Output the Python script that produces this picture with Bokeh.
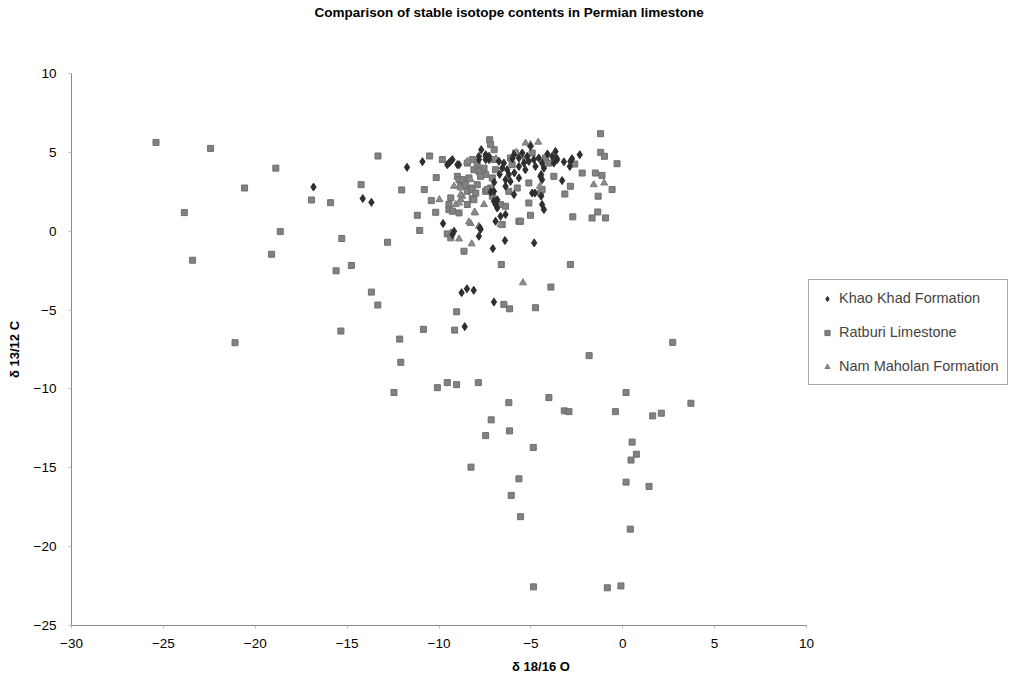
from bokeh.plotting import figure
from bokeh.models import Range1d, Legend, LegendItem, FixedTicker, Title
from bokeh.embed import file_html
from bokeh.resources import INLINE

TITLE = "Comparison of stable isotope contents in Permian limestone"
X_LABEL = "δ 18/16 O"
Y_LABEL = "δ 13/12 C"
X_TICKS = [-30, -25, -20, -15, -10, -5, 0, 5, 10]
Y_TICKS = [-25, -20, -15, -10, -5, 0, 5, 10]
X_MIN, X_MAX = -30, 10
Y_MIN, Y_MAX = -25, 10

# Khao Khad Formation (diamonds)
khao_x = [-16.83, -14.15, -13.68, -11.74, -10.9, -9.55, -9.37, -8.91, -9.46, -9.27, -9.0,
          -7.7, -7.46, -7.83, -7.46, -7.28, -7.83, -7.46, -7.28,
          -6.74, -6.47, -6.56, -6.29, -6.2, -6.38, -6.11, -6.38,
          -5.92, -5.65, -5.47, -5.2, -5.11, -4.84, -4.57, -4.39, -5.38, -5.65, -4.75,
          -5.02, -3.84, -3.66, -3.57, -4.29, -3.75,
          -4.48, -4.39, -4.93, -5.65, -5.92,
          -6.83, -6.92, -7.01, -7.19, -7.01, -6.92, -6.83,
          -6.92, -6.65, -6.38, -6.41, -7.07, -4.82,
          -7.74, -7.83, -7.77, -9.78, -9.18, -9.27,
          -4.78, -4.44, -4.39, -4.29, -3.3,
          -2.34, -2.76, -2.85, -2.88, -3.6, -4.44,
          -8.77, -8.48, -8.11, -7.01, -8.6,
          -6.0, -5.3, -4.1, -3.2, -5.9, -6.7, -7.0]
khao_y = [2.8, 2.07, 1.83, 4.05, 4.41, 4.22, 4.43, 4.22, 4.32, 4.54, 4.22,
          5.17, 4.85, 4.54, 4.54, 4.54, 4.75, 4.75, 4.75,
          4.43, 4.32, 4.0, 3.9, 3.59, 3.27, 3.16, 2.85,
          4.85, 4.64, 4.96, 4.75, 4.43, 4.54, 4.64, 4.32, 4.32, 4.11, 4.11,
          5.38, 4.75, 5.06, 4.54, 4.0, 4.32,
          3.48, 3.27, 2.42, 3.38, 2.32,
          2.0, 1.79, 2.53, 2.49, 1.9, 1.69, 1.47,
          0.63, 0.95, 1.06, -0.59, -1.1, -0.74,
          0.11, -0.32, 0.21, 0.49, 0.0, -0.21,
          2.42, 2.22, 1.69, 1.37, 3.21,
          4.85, 4.6, 4.43, 4.11, 4.64, 3.59,
          -3.9, -3.65, -3.75, -4.49, -6.05,
          4.6, 3.9, 4.9, 4.4, 3.7, 3.6, 3.1]

# Ratburi Limestone (squares)
ratburi_x = [-25.4, -22.43, -18.88, -20.58, -16.94, -15.9, -14.24, -13.32, -23.86, -18.64,
             -15.29, -12.8, -19.11, -23.41, -14.77, -15.6, -13.68, -13.33, -15.34, -21.1,
             -10.51, -10.15, -12.03, -10.8, -10.42, -11.18, -10.18, -11.05,
             -8.46, -7.24, -7.19, -7.0,
             -8.19, -7.92, -8.1, -7.83, -7.55, -7.46, -7.74, -7.01, -6.92, -7.1,
             -6.02, -6.11, -5.84, -5.29, -4.93, -4.2, -4.02,
             -3.75, -5.11, -4.48, -5.74, -6.2,
             -7.19, -7.46, -7.1, -6.65,
             -9.0, -8.91, -8.73, -8.82, -8.55, -8.28, -8.46, -8.19, -8.0, -7.92,
             -9.82, -9.36, -9.46, -8.19,
             -9.46, -9.27, -8.91, -8.37, -8.1, -8.46, -7.37,
             -6.38, -5.65, -9.55, -9.36, -8.64,
             -5.11, -5.02, -5.56, -6.56, -4.39,
             -2.21, -1.21, -1.2, -1.0, -0.31, -1.49, -1.13, -0.58, -2.85, -3.15,
             -1.34, -1.36, -1.67, -0.94, -2.72, -2.61,
             -6.61, -2.85, -3.91, -6.47, -6.16, -4.75, -9.04, -9.15, -10.85, -12.14,
             -12.08, 2.72, -1.83, -12.45, -10.09, -9.55, -9.04, -7.86, -4.02, -6.2,
             0.18, 3.71, -3.18, -2.93, -0.4, 1.63, 2.1, -7.16, -6.16, -7.46,
             -4.87, 0.51, 0.74, 0.45, -8.26, -5.65, 0.18, 1.43, -6.07, -5.56,
             0.41, -4.86, -0.84, -0.1]
ratburi_y = [5.63, 5.25, 4.0, 2.74, 1.98, 1.81, 2.95, 4.77, 1.18, -0.02,
             -0.46, -0.7, -1.46, -1.84, -2.17, -2.51, -3.86, -4.68, -6.33, -7.07,
             4.77, 3.4, 2.62, 2.64, 1.94, 1.01, 1.2, 0.05,
             4.32, 5.8, 5.49, 5.17,
             4.54, 4.22, 3.9, 3.8, 4.0, 3.59, 3.48, 4.54, 3.9, 3.38,
             4.22, 4.64, 4.96, 4.54, 4.96, 4.64, 4.32,
             3.48, 3.06, 2.42, 2.74, 2.53,
             2.74, 2.53, 2.22, 1.69,
             3.48, 3.27, 3.27, 2.85, 2.95, 2.74, 2.53, 2.64, 2.42, 2.95,
             4.54, 2.11, 1.69, 2.06,
             1.37, 1.27, 1.16, 3.38, 2.0, 1.69, 2.64,
             1.58, 0.63, -0.17, -0.42, -1.27,
             1.79, 1.01, 0.63, 0.42, 2.64,
             3.69, 6.18, 5.0, 4.75, 4.28, 3.69, 3.54, 2.64, 2.85, 2.36,
             2.22, 1.22, 0.84, 0.84, 0.91, 4.26,
             -2.11, -2.11, -3.54, -4.64, -4.92, -4.85, -5.11, -6.27, -6.22, -6.84,
             -8.31, -7.05, -7.89, -10.23, -9.92, -9.6, -9.73, -9.6, -10.55, -10.87,
             -10.23, -10.91, -11.39, -11.44, -11.44, -11.71, -11.54, -11.96, -12.66, -12.96,
             -13.71, -13.37, -14.14, -14.51, -14.96, -15.7, -15.91, -16.18, -16.75, -18.1,
             -18.89, -22.55, -22.61, -22.49]

# Nam Maholan Formation (triangles)
nam_x = [-5.29, -5.02, -4.6, -9.98, -9.09, -8.82, -9.18, -8.82, -8.46, -8.28,
         -8.73, -8.82, -7.55, -8.04, -8.28, -8.91, -8.22, -7.83, -6.65, -9.36,
         -8.37, -8.06, -8.91, -4.51, -5.43, -1.58, -1.01, -6.9, -5.8]
nam_y = [5.59, 5.49, 5.65, 2.0, 1.69, 2.0, 2.85, 2.74, 4.43, 3.27,
         2.22, 2.32, 1.69, 1.16, 0.49, -0.49, -0.8, 0.32, 0.42, -0.1,
         0.59, 1.22, 1.79, 2.85, -3.27, 2.95, 3.06, 4.6, 5.0]

FONT = "Liberation Sans"

# layout (pixels): the plotted x span occupies 735 px of a 939 px wide frame;
# the remaining frame area on the right holds the legend
W, H = 1011, 683
LEFT, TOP, BOTTOM, RIGHT = 71, 73, 58, 1
FRAME_W = W - LEFT - RIGHT
AXIS_W = 735
x_end = X_MIN + (X_MAX - X_MIN) * FRAME_W / AXIS_W

p = figure(width=W, height=H,
           x_range=Range1d(X_MIN, x_end), y_range=Range1d(Y_MIN, Y_MAX),
           output_backend="svg", toolbar_location=None,
           min_border_left=LEFT, min_border_top=TOP, min_border_bottom=BOTTOM,
           min_border_right=RIGHT)
p.outline_line_color = None
p.grid.visible = False
p.background_fill_color = "white"
p.border_fill_color = "white"

for ax in (p.xaxis[0], p.yaxis[0]):
    ax.axis_line_color = "#8a8a8a"
    ax.axis_line_width = 1
    ax.major_tick_line_color = "#bbbbbb"
    ax.major_tick_in = 0
    ax.major_tick_out = 3
    ax.minor_tick_line_color = None
    ax.major_label_text_font = FONT
    ax.major_label_text_font_size = "13.5px"
    ax.major_label_text_color = "black"
    ax.axis_label_text_font = FONT
    ax.axis_label_text_font_size = "13px"
    ax.axis_label_text_font_style = "bold"
    ax.axis_label_text_color = "black"

p.xaxis.bounds = (X_MIN, X_MAX)
p.xaxis.ticker = FixedTicker(ticks=X_TICKS)
p.yaxis.ticker = FixedTicker(ticks=Y_TICKS)
p.xaxis.axis_label = X_LABEL
p.yaxis.axis_label = Y_LABEL
p.xaxis.major_label_standoff = 10
p.yaxis.major_label_standoff = 12
p.xaxis.axis_label_standoff = 8
p.yaxis.axis_label_standoff = 9

r_rat = p.scatter(ratburi_x, ratburi_y, marker="square", size=6,
                  fill_color="#828282", line_color="#6e6e6e", line_width=1)
r_nam = p.scatter(nam_x, nam_y, marker="triangle", size=7,
                  fill_color="#8c8c8c", line_color="#7a7a7a", line_width=1)
r_khao = p.scatter(khao_x, khao_y, marker="diamond", size=8,
                   fill_color="#2e2e2e", line_color="#2e2e2e", line_width=1)

# blank spacer title closest to the frame, then the real title above it
spacer = Title(text=" ", text_font=FONT, text_font_size="10px", standoff=41,
               text_color="white")
p.add_layout(spacer, "above")
main_title = Title(text=TITLE, align="left", offset=243, text_font=FONT,
                   text_font_size="13.5px", text_font_style="bold",
                   text_color="black", standoff=0)
p.add_layout(main_title, "above")

legend = Legend(items=[LegendItem(label="Khao Khad Formation", renderers=[r_khao]),
                       LegendItem(label="Ratburi Limestone", renderers=[r_rat]),
                       LegendItem(label="Nam Maholan Formation", renderers=[r_nam])],
                location=(AXIS_W + 2, 240), orientation="vertical")
legend.margin = 0
legend.padding = 8
legend.spacing = 14
legend.glyph_width = 20
legend.glyph_height = 13
legend.label_height = 20
legend.label_width = 160
legend.label_standoff = 2
legend.label_text_font = FONT
legend.label_text_font_size = "14.5px"
legend.border_line_color = "#555555"
legend.border_line_width = 1
legend.background_fill_color = "white"
legend.background_fill_alpha = 1
p.add_layout(legend, "center")

open("out.html", "w").write(file_html(p, INLINE))
